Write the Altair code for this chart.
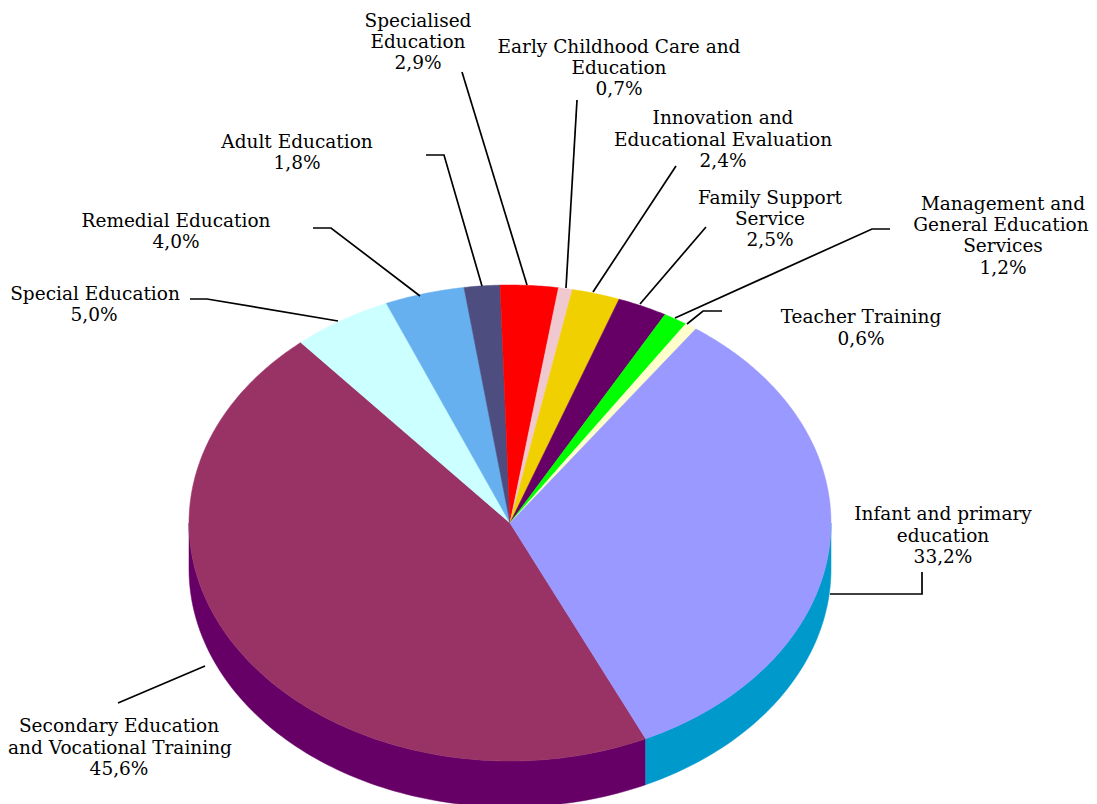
import math
import altair as alt
import pandas as pd

# --- values ---
names = ["Secondary Education and Vocational Training", "Special Education", "Remedial Education",
         "Adult Education", "Specialised Education", "Early Childhood Care and Education",
         "Innovation and Educational Evaluation", "Family Support Service",
         "Management and General Education Services", "Teacher Training", "Infant and primary education"]
shares = [45.6, 5.0, 4.0, 1.8, 2.9, 0.7, 2.4, 2.5, 1.2, 0.6, 33.2]
top_colors = ["#993366", "#CCFFFF", "#66B0F0", "#4D4D80", "#FF0000", "#F0C8D0",
              "#F0D000", "#660066", "#00FF00", "#FFFFCC", "#9999FF"]
side_colors = {"Secondary Education and Vocational Training": "#660066",
               "Infant and primary education": "#0099CC"}

label_rows = [
    ("Specialised", 418, 20.5), ("Education", 418, 41.5), ("2,9%", 418, 62.5),
    ("Early Childhood Care and", 619, 46.5), ("Education", 619, 67.5), ("0,7%", 619, 88.5),
    ("Innovation and", 723, 117.5), ("Educational Evaluation", 723, 139.5), ("2,4%", 723, 160.5),
    ("Family Support", 770, 197.5), ("Service", 770, 218.5), ("2,5%", 770, 239.5),
    ("Management and", 1003, 203.5), ("General Education", 1001, 224.5), ("Services", 1003, 245.5), ("1,2%", 1003, 267.5),
    ("Teacher Training", 861, 316.5), ("0,6%", 861, 338.5),
    ("Infant and primary", 943, 513.5), ("education", 943, 535.5), ("33,2%", 943, 556.5),
    ("Secondary Education", 119, 725.5), ("and Vocational Training", 120, 747.5), ("45,6%", 119, 768.5),
    ("Adult Education", 297, 141.5), ("1,8%", 297, 162.5),
    ("Remedial Education", 176, 220.5), ("4,0%", 176, 241.5),
    ("Special Education", 95, 293.5), ("5,0%", 94, 314.5),
]
leaders = [
    [(830, 594), (922, 594), (922, 572)],
    [(687, 324), (703, 311), (722, 311)],
    [(675, 318), (872, 229), (890, 229)],
    [(640, 304), (706, 227)],
    [(593, 292), (676, 166)],
    [(566, 288), (577, 100)],
    [(527, 285), (462, 72)],
    [(482, 286), (444, 155), (426, 155)],
    [(420, 296), (331, 228), (313, 228)],
    [(338, 321), (207, 299), (190, 299)],
    [(205, 666), (118, 703)],
]

CX, CY, RX, RY, DEPTH = 510, 523, 321, 238, 46
START = 155.0
W, H = 1081, 796
FONT = "DejaVu Serif"
FS = 18.5


def pt(deg, dy=0):
    a = math.radians(deg)
    return CX + RX * math.sin(a), CY - RY * math.cos(a) + dy


total = sum(shares)
top_rows, side_rows = [], []
angle = START
for name, share in zip(names, shares):
    sweep = share / total * 360 if name != names[-1] else (START + 360 - angle)
    n = max(3, int(sweep * 2))
    arc = [angle + sweep * i / n for i in range(n + 1)]
    poly = [(CX, CY)] + [pt(d) for d in arc] + [(CX, CY)]
    for i, (x, y) in enumerate(poly):
        top_rows.append({"slice": name, "i": i, "x": x, "y": y})
    if name in side_colors:
        if name == names[-1]:
            front = [90 + (155 - 90) * i / 60 for i in range(61)]
        else:
            front = [155 + (270 - 155) * i / 100 for i in range(101)]
        poly = [pt(d) for d in front] + [pt(d, DEPTH) for d in reversed(front)]
        poly.append(poly[0])
        for i, (x, y) in enumerate(poly):
            side_rows.append({"slice": name, "i": i, "x": x, "y": y})
    angle += sweep

xs = alt.X("x:Q", scale=alt.Scale(domain=[8, 8 + W], nice=False, zero=False), axis=None)
ys = alt.Y("y:Q", scale=alt.Scale(domain=[8 + H, 8], nice=False, zero=False), axis=None)

layers = []
for name, col in side_colors.items():
    d = pd.DataFrame([r for r in side_rows if r["slice"] == name])
    layers.append(alt.Chart(d).mark_line(fill=col, stroke=col, strokeWidth=0.5, clip=True, interpolate="linear")
                  .encode(x=xs, y=ys, order="i:Q"))
for name, col in zip(names, top_colors):
    d = pd.DataFrame([r for r in top_rows if r["slice"] == name])
    layers.append(alt.Chart(d).mark_line(fill=col, stroke=col, strokeWidth=0.5, clip=True, interpolate="linear")
                  .encode(x=xs, y=ys, order="i:Q"))

leader_rows = [{"id": k, "i": i, "x": x, "y": y} for k, line in enumerate(leaders) for i, (x, y) in enumerate(line)]
layers.append(alt.Chart(pd.DataFrame(leader_rows)).mark_line(color="black", strokeWidth=1.7)
              .encode(x=xs, y=ys, detail="id:N", order="i:Q"))

labels = pd.DataFrame(label_rows, columns=["t", "x", "y"])
layers.append(alt.Chart(labels).mark_text(font=FONT, fontSize=FS, color="black", baseline="middle", align="center")
              .encode(x=xs, y=ys, text="t:N"))

chart = alt.layer(*layers).properties(width=W, height=H, padding=0, background="white",
                                      autosize=alt.AutoSizeParams(type="none")) \
    .configure_view(strokeWidth=0, stroke="transparent")
chart.save("out.html", embed_options={"renderer": "svg", "actions": False})
